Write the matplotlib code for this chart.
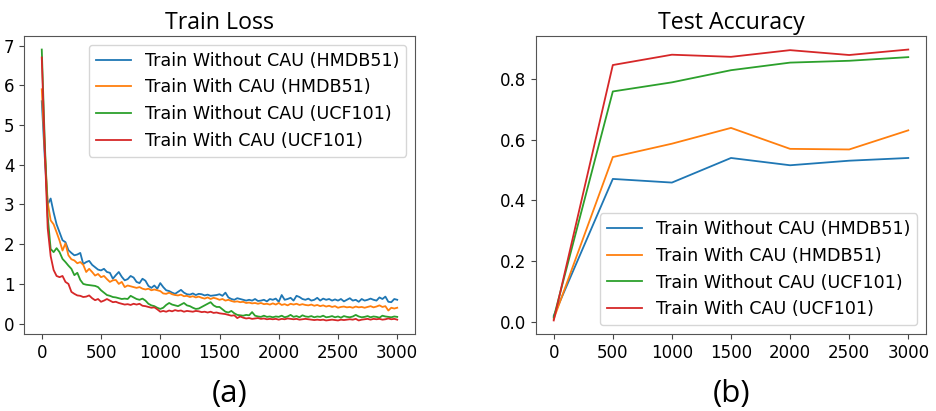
import matplotlib.pyplot as plt
import numpy as np

# training steps of the loss curves (one reading every 25 steps)
loss_steps = np.arange(0, 3001, 25)

loss_wo_hmdb = [5.60, 4.20, 3.00, 3.15, 2.80, 2.50, 2.30, 2.10, 2.05, 1.85,
                1.78, 1.72, 1.74, 1.78, 1.50, 1.55, 1.58, 1.48, 1.42, 1.36,
                1.34, 1.38, 1.30, 1.28, 1.13, 1.22, 1.30, 1.18, 1.09, 1.12,
                1.20, 1.16, 1.05, 1.02, 1.13, 1.08, 0.95, 0.90, 0.96, 0.88,
                1.02, 0.92, 0.84, 0.82, 0.78, 0.75, 0.80, 0.85, 0.78, 0.74,
                0.73, 0.76, 0.72, 0.75, 0.74, 0.71, 0.73, 0.70, 0.71, 0.72,
                0.74, 0.70, 0.78, 0.66, 0.62, 0.60, 0.64, 0.62, 0.60, 0.58,
                0.60, 0.58, 0.62, 0.57, 0.58, 0.60, 0.56, 0.62, 0.60, 0.63,
                0.55, 0.72, 0.60, 0.62, 0.65, 0.58, 0.70, 0.67, 0.62, 0.60,
                0.63, 0.58, 0.60, 0.65, 0.58, 0.63, 0.60, 0.62, 0.58, 0.61,
                0.58, 0.62, 0.56, 0.60, 0.64, 0.58, 0.60, 0.55, 0.62, 0.58,
                0.60, 0.63, 0.60, 0.58, 0.66, 0.62, 0.68, 0.55, 0.54, 0.62,
                0.60]
loss_w_hmdb = [5.90, 4.40, 3.05, 2.60, 2.50, 2.30, 2.09, 1.84, 2.02, 1.72,
               1.62, 1.59, 1.52, 1.55, 1.48, 1.30, 1.38, 1.30, 1.21, 1.25,
               1.17, 1.20, 1.12, 1.05, 1.09, 1.10, 1.00, 1.05, 0.92, 0.96,
               0.94, 0.92, 0.90, 0.92, 0.88, 0.86, 0.88, 0.84, 0.86, 0.84,
               0.82, 0.76, 0.75, 0.78, 0.74, 0.72, 0.71, 0.73, 0.69, 0.70,
               0.67, 0.69, 0.66, 0.68, 0.65, 0.63, 0.66, 0.62, 0.65, 0.63,
               0.60, 0.62, 0.58, 0.60, 0.57, 0.55, 0.56, 0.54, 0.55, 0.52,
               0.53, 0.51, 0.52, 0.50, 0.52, 0.49, 0.50, 0.48, 0.51, 0.48,
               0.52, 0.47, 0.49, 0.46, 0.50, 0.48, 0.50, 0.47, 0.49, 0.47,
               0.46, 0.48, 0.45, 0.47, 0.44, 0.46, 0.43, 0.45, 0.42, 0.44,
               0.40, 0.42, 0.43, 0.41, 0.42, 0.40, 0.43, 0.41, 0.42, 0.40,
               0.42, 0.44, 0.41, 0.43, 0.46, 0.42, 0.44, 0.33, 0.40, 0.38,
               0.40]
loss_wo_ucf = [6.90, 4.60, 2.70, 1.88, 1.80, 1.90, 1.80, 1.63, 1.55, 1.46,
               1.38, 1.22, 1.28, 1.10, 1.00, 0.98, 0.97, 0.96, 0.95, 0.92,
               0.84, 0.78, 0.72, 0.70, 0.67, 0.66, 0.64, 0.62, 0.63, 0.62,
               0.70, 0.66, 0.62, 0.60, 0.63, 0.58, 0.50, 0.46, 0.44, 0.40,
               0.37, 0.40, 0.47, 0.52, 0.48, 0.46, 0.44, 0.48, 0.52, 0.46,
               0.44, 0.40, 0.37, 0.38, 0.42, 0.46, 0.50, 0.54, 0.46, 0.42,
               0.42, 0.36, 0.30, 0.28, 0.32, 0.26, 0.22, 0.21, 0.20, 0.22,
               0.21, 0.29, 0.20, 0.18, 0.17, 0.20, 0.17, 0.18, 0.16, 0.18,
               0.17, 0.20, 0.16, 0.18, 0.22, 0.17, 0.19, 0.16, 0.21, 0.18,
               0.17, 0.19, 0.16, 0.18, 0.17, 0.20, 0.16, 0.17, 0.19, 0.16,
               0.18, 0.15, 0.19, 0.17, 0.16, 0.18, 0.22, 0.18, 0.16, 0.17,
               0.19, 0.16, 0.18, 0.17, 0.15, 0.20, 0.18, 0.17, 0.16, 0.18,
               0.17]
loss_w_ucf = [6.70, 4.40, 2.40, 1.70, 1.35, 1.20, 1.17, 1.20, 1.05, 1.00,
              0.80, 0.75, 0.71, 0.70, 0.67, 0.68, 0.71, 0.64, 0.59, 0.62,
              0.55, 0.58, 0.62, 0.58, 0.54, 0.55, 0.52, 0.50, 0.48, 0.49,
              0.47, 0.50, 0.48, 0.50, 0.45, 0.44, 0.42, 0.40, 0.41, 0.36,
              0.30, 0.32, 0.30, 0.33, 0.31, 0.34, 0.32, 0.33, 0.30, 0.32,
              0.31, 0.30, 0.32, 0.31, 0.29, 0.30, 0.28, 0.30, 0.27, 0.28,
              0.26, 0.25, 0.24, 0.22, 0.20, 0.21, 0.14, 0.18, 0.15, 0.13,
              0.14, 0.12, 0.13, 0.14, 0.12, 0.13, 0.11, 0.12, 0.11, 0.12,
              0.10, 0.12, 0.11, 0.13, 0.12, 0.11, 0.12, 0.10, 0.11, 0.12,
              0.11, 0.10, 0.09, 0.10, 0.09, 0.10, 0.08, 0.09, 0.10, 0.09,
              0.08, 0.10, 0.09, 0.10, 0.11, 0.10, 0.12, 0.08, 0.10, 0.11,
              0.12, 0.10, 0.12, 0.11, 0.12, 0.10, 0.11, 0.13, 0.11, 0.12,
              0.10]

# test accuracy, evaluated every 500 steps
acc_steps = [0, 500, 1000, 1500, 2000, 2500, 3000]
acc_wo_hmdb = [0.020, 0.471, 0.459, 0.540, 0.516, 0.531, 0.540]
acc_w_hmdb = [0.010, 0.543, 0.587, 0.639, 0.570, 0.568, 0.631]
acc_wo_ucf = [0.015, 0.759, 0.789, 0.829, 0.854, 0.860, 0.872]
acc_w_ucf = [0.005, 0.846, 0.880, 0.873, 0.895, 0.879, 0.897]

labels = ['Train Without CAU (HMDB51)', 'Train With CAU (HMDB51)',
          'Train Without CAU (UCF101)', 'Train With CAU (UCF101)']
colors = ['#1f77b4', '#ff7f0e', '#2ca02c', '#d62728']

fig = plt.figure(figsize=(9.36, 4.11), dpi=100)
ax1 = fig.add_axes([24 / 936, 77 / 411, 391 / 936, 298 / 411])
ax2 = fig.add_axes([536 / 936, 77 / 411, 390 / 936, 298 / 411])

for ys, lab, c in zip([loss_wo_hmdb, loss_w_hmdb, loss_wo_ucf, loss_w_ucf], labels, colors):
    ax1.plot(loss_steps, ys, color=c, lw=1.3, label=lab)
for ys, lab, c in zip([acc_wo_hmdb, acc_w_hmdb, acc_wo_ucf, acc_w_ucf], labels, colors):
    ax2.plot(acc_steps, ys, color=c, lw=1.3, label=lab)

ax1.set_xticks([0, 500, 1000, 1500, 2000, 2500, 3000])
ax1.set_yticks(range(8))
ax2.set_xticks(acc_steps)
ax2.set_yticks([0.0, 0.2, 0.4, 0.6, 0.8])

for ax, title in [(ax1, 'Train Loss'), (ax2, 'Test Accuracy')]:
    ax.set_title(title, fontsize=16.7, family='Open Sans', pad=5)
    ax.tick_params(labelsize=12, color='#444444')
    for sp in ax.spines.values():
        sp.set_color('#555555')

# panel tags under each chart
fig.text(230 / 936, 17 / 411, '(a)', ha='center', va='center', fontsize=22.5, family='Open Sans')
fig.text(732 / 936, 17 / 411, '(b)', ha='center', va='center', fontsize=22.5, family='Open Sans')

ax1.legend(loc='upper right', fontsize=12.6)
ax2.legend(loc='lower right', fontsize=12.6)

fig.savefig('out.png', dpi=100)
